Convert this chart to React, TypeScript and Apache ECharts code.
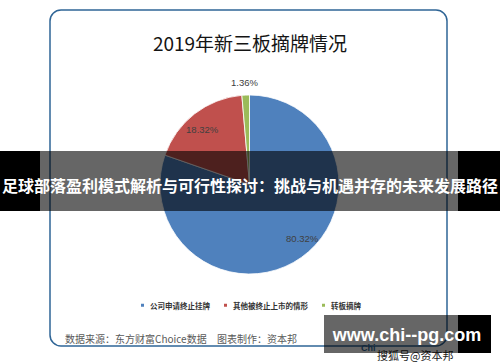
import React, { useEffect, useRef } from "react";
import * as echarts from "echarts";

const categories = ["公司申请终止挂牌", "其他被终止上市的情形", "转板摘牌"];
const shares = [80.32, 18.32, 1.36];
const sliceColors = ["#4f81bd", "#c0504d", "#9bbb59"];
const titleText = "2019年新三板摘牌情况";
const sourceText = "数据来源：东方财富Choice数据";
const makerText = "图表制作：资本邦";
const bannerText = "足球部落盈利模式解析与可行性探讨：挑战与机遇并存的未来发展路径";
const watermarkText = "www.chi--pg.com";

const CJK = '"Noto Sans CJK SC", "Noto Sans", sans-serif';

export default function App() {
  const ref = useRef<HTMLDivElement>(null);
  useEffect(() => {
    document.body.style.margin = "0";
    const chart = echarts.init(ref.current!, null, { renderer: "svg" });
    const labelOffsets = [
      [25, 15],
      [-18, -17],
      [-3, -54],
    ];
    chart.setOption({
      animation: false,
      backgroundColor: "#ffffff",
      title: {
        text: titleText,
        left: "center",
        top: 28,
        textStyle: { fontFamily: CJK, fontSize: 19, fontWeight: "normal", color: "#141414" },
      },
      legend: {
        data: categories,
        bottom: 48,
        left: "center",
        icon: "rect",
        itemWidth: 5,
        itemHeight: 5,
        itemGap: 12,
        textStyle: { fontFamily: CJK, fontSize: 7.5, color: "#333", fontWeight: "bold" },
      },
      series: [
        {
          type: "pie",
          center: [249.5, 184.5],
          radius: 89.5,
          startAngle: 90,
          clockwise: true,
          itemStyle: { borderColor: "#ffffff", borderWidth: 0.8 },
          labelLine: { show: false },
          data: categories.map((name, i) => ({
            name,
            value: shares[i],
            itemStyle: { color: sliceColors[i] },
            label: {
              show: true,
              position: "inside",
              offset: labelOffsets[i],
              formatter: (p: any) => p.value.toFixed(2) + "%",
              fontFamily: '"Liberation Sans", sans-serif',
              fontSize: 9.5,
              color: "#404040",
            },
          })),
        },
      ],
      graphic: [
        {
          type: "rect",
          z: 1,
          shape: { x: 50, y: 10, width: 397, height: 336, r: 11 },
          style: { fill: "none", stroke: "#2f6596", lineWidth: 1.5 },
        },
        {
          type: "text",
          z: 5,
          x: 65,
          y: 338,
          style: { text: sourceText, fontFamily: CJK, fontSize: 10, fill: "#595959", verticalAlign: "middle" },
        },
        {
          type: "text",
          z: 5,
          x: 217,
          y: 338,
          style: { text: makerText, fontFamily: CJK, fontSize: 10, fill: "#595959", verticalAlign: "middle" },
        },
        {
          type: "text",
          z: 5,
          x: 361,
          y: 348,
          style: { text: "Chi", fontFamily: '"Liberation Sans", sans-serif', fontSize: 9, fontWeight: "bold", fill: "#2f6596", verticalAlign: "middle" },
        },
        {
          type: "text",
          z: 5,
          x: 377,
          y: 355,
          style: { text: "搜狐号@资本邦", fontFamily: CJK, fontSize: 11, fill: "#222", verticalAlign: "middle" },
        },
        { type: "rect", z: 100, shape: { x: 0, y: 151, width: 40, height: 60 }, style: { fill: "#000" } },
        { type: "rect", z: 100, shape: { x: 40, y: 151, width: 418, height: 60 }, style: { fill: "rgba(0,0,0,0.6)" } },
        { type: "rect", z: 100, shape: { x: 458, y: 151, width: 42, height: 60 }, style: { fill: "#000" } },
        {
          type: "text",
          z: 101,
          x: 250,
          y: 185,
          style: {
            text: bannerText,
            fontFamily: CJK,
            fontSize: 16,
            fontWeight: "bold",
            fill: "#ffffff",
            align: "center",
            verticalAlign: "middle",
          },
        },
        { type: "rect", z: 100, shape: { x: 324, y: 315, width: 134, height: 38 }, style: { fill: "rgba(0,0,0,0.6)" } },
        { type: "rect", z: 100, shape: { x: 458, y: 315, width: 33, height: 38 }, style: { fill: "#000" } },
        {
          type: "text",
          z: 101,
          x: 407,
          y: 335,
          style: {
            text: watermarkText,
            fontFamily: '"Liberation Sans", sans-serif',
            fontSize: 18,
            fontWeight: "bold",
            fill: "#ffffff",
            align: "center",
            verticalAlign: "middle",
          },
        },
      ],
    });
    return () => chart.dispose();
  }, []);
  return <div ref={ref} style={{ width: 500, height: 362 }} />;
}
